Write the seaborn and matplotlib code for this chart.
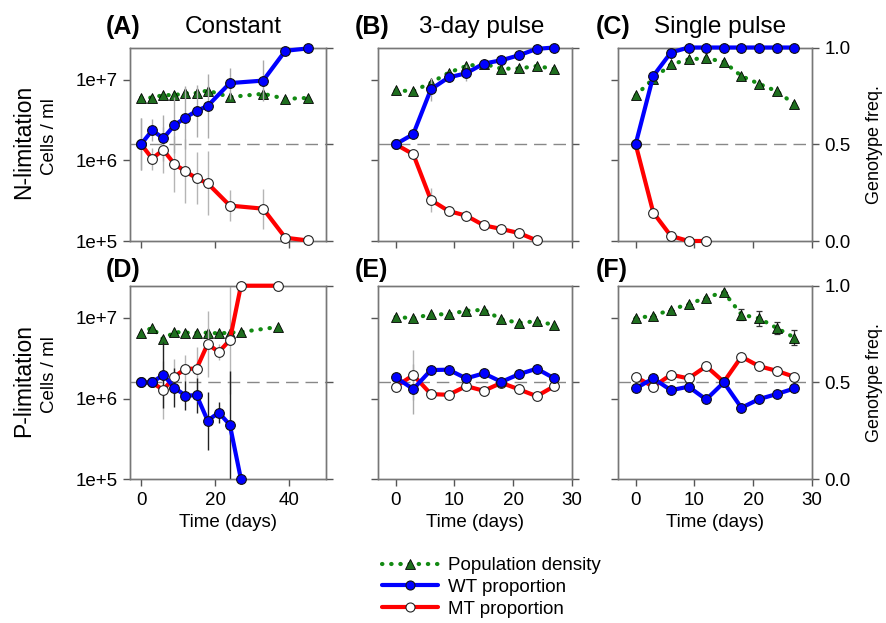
import numpy as np
import pandas as pd
import matplotlib
matplotlib.use("Agg")
import matplotlib.pyplot as plt
import seaborn as sns
from matplotlib.lines import Line2D

sns.set_theme(style="ticks")
plt.rcParams['font.family'] = ['Liberation Sans', 'DejaVu Sans']
for k in ["text.color", "axes.labelcolor", "xtick.color", "ytick.color"]:
    plt.rcParams[k] = "black"

# ---------------- data ----------------
# Panel A: N-limitation, constant
tA = [0, 3, 6, 9, 12, 15, 18, 24, 33, 39, 45]
densA = [5.97e6, 6.0e6, 6.45e6, 6.45e6, 6.8e6, 6.85e6, 7.35e6, 6.1e6, 6.7e6, 5.8e6, 5.95e6]
wtA = [0.5, 0.572, 0.531, 0.598, 0.638, 0.672, 0.698, 0.816, 0.829, 0.983, 0.995]
mtA = [0.5, 0.426, 0.471, 0.398, 0.36, 0.324, 0.298, 0.183, 0.167, 0.017, 0.003]
wtA_err = [0.134, 0.057, 0.12, 0.145, 0.165, 0.135, 0.165, 0.08, 0.104, 0.0, 0.0]
mtA_err = wtA_err

# Panel B: N-limitation, 3-day pulse
tB = [0, 3, 6, 9, 12, 15, 18, 21, 24, 27]
densB = [7.36e6, 7.23e6, 9.18e6, 1.22e7, 1.48e7, 1.58e7, 1.37e7, 1.38e7, 1.48e7, 1.36e7]
wtB = [0.5, 0.552, 0.784, 0.845, 0.867, 0.917, 0.934, 0.96, 0.993, 1.0]
mtB = [0.5, 0.448, 0.212, 0.155, 0.131, 0.081, 0.062, 0.041, 0.003]
wtB_err = [0.0, 0.02, 0.06, 0.02, 0.04, 0.01, 0.01, 0.01, 0.01, 0.0]
mtB_err = [0.0, 0.02, 0.06, 0.02, 0.03, 0.01, 0.01, 0.01, 0.0]

# Panel C: N-limitation, single pulse
tC = [0, 3, 6, 9, 12, 15, 18, 21, 24, 27]
densC = [6.38e6, 1.03e7, 1.55e7, 1.79e7, 1.85e7, 1.67e7, 1.11e7, 8.9e6, 7.2e6, 5.0e6]
wtC = [0.5, 0.853, 0.974, 1.0, 1.0, 1.0, 1.0, 1.0, 1.0, 1.0]
mtC = [0.5, 0.147, 0.026, 0.0, 0.0]
wtC_err = [0.0] * 10
mtC_err = [0.0] * 5

# Panel D: P-limitation, constant
tD = [0, 3, 6, 9, 12, 15, 18, 21, 24, 27, 37]
densD = [6.44e6, 7.59e6, 5.42e6, 6.7e6, 6.56e6, 6.56e6, 6.56e6, 6.44e6, 6.56e6, 6.7e6, 7.73e6]
wtD = [0.5, 0.5, 0.54, 0.473, 0.432, 0.434, 0.303, 0.344, 0.281, 0.0]
mtD = [0.5, 0.5, 0.461, 0.53, 0.571, 0.571, 0.699, 0.657, 0.719, 1.0, 1.0]
wtD_err = [0.0, 0.02, 0.17, 0.1, 0.075, 0.09, 0.15, 0.055, 0.28, 0.0]
mtD_err = [0.0, 0.02, 0.15, 0.09, 0.07, 0.11, 0.17, 0.04, 0.28, 0.0, 0.0]

# Panel E: P-limitation, 3-day pulse
tE = [0, 3, 6, 9, 12, 15, 18, 21, 24, 27]
densE = [1.03e7, 9.9e6, 1.11e7, 1.11e7, 1.23e7, 1.26e7, 9.6e6, 8.7e6, 9.1e6, 8.2e6]
wtE = [0.526, 0.466, 0.564, 0.566, 0.521, 0.547, 0.503, 0.543, 0.571, 0.521]
mtE = [0.478, 0.538, 0.44, 0.436, 0.481, 0.457, 0.498, 0.464, 0.429, 0.481]
wtE_err = [0.01, 0.13, 0.01, 0.01, 0.01, 0.01, 0.01, 0.01, 0.01, 0.01]
mtE_err = wtE_err

# Panel F: P-limitation, single pulse
tF = [0, 3, 6, 9, 12, 15, 18, 21, 24, 27]
densF = [1.0e7, 1.06e7, 1.27e7, 1.48e7, 1.79e7, 2.09e7, 1.1e7, 9.9e6, 7.5e6, 5.7e6]
densF_err = [0.0, 0.0, 0.0, 0.0, 0.0, 0.0, 0.07, 0.09, 0.08, 0.09]  # log10 units
wtF = [0.469, 0.521, 0.46, 0.478, 0.412, 0.5, 0.369, 0.414, 0.44, 0.469]
mtF = [0.529, 0.478, 0.54, 0.521, 0.584, 0.503, 0.633, 0.584, 0.56, 0.529]
wtF_err = [0.02, 0.01, 0.01, 0.01, 0.01, 0.01, 0.02, 0.01, 0.01, 0.01]
mtF_err = wtF_err

panel_letters = ["(A)", "(B)", "(C)", "(D)", "(E)", "(F)"]
col_titles = ["Constant", "3-day pulse", "Single pulse"]
row_labels = ["N-limitation", "P-limitation"]
density_ticks = [1e5, 1e6, 1e7]
density_ticklabels = ["1e+5", "1e+6", "1e+7"]
freq_ticks = [0.0, 0.5, 1.0]
freq_ticklabels = ["0.0", "0.5", "1.0"]

panels = [
    dict(t=tA, dens=densA, dens_err=None, wt=wtA, mt=mtA, wt_err=wtA_err, mt_err=mtA_err,
         xlim=(-3, 50), xticks=[0, 20, 40], wt_ecolor="#aaaaaa"),
    dict(t=tB, dens=densB, dens_err=None, wt=wtB, mt=mtB, wt_err=wtB_err, mt_err=mtB_err,
         xlim=(-3, 30), xticks=[0, 10, 20, 30], wt_ecolor="#aaaaaa"),
    dict(t=tC, dens=densC, dens_err=None, wt=wtC, mt=mtC, wt_err=wtC_err, mt_err=mtC_err,
         xlim=(-3, 30), xticks=[0, 10, 20, 30], wt_ecolor="#aaaaaa"),
    dict(t=tD, dens=densD, dens_err=None, wt=wtD, mt=mtD, wt_err=wtD_err, mt_err=mtD_err,
         xlim=(-3, 50), xticks=[0, 20, 40], wt_ecolor="#222222"),
    dict(t=tE, dens=densE, dens_err=None, wt=wtE, mt=mtE, wt_err=wtE_err, mt_err=mtE_err,
         xlim=(-3, 30), xticks=[0, 10, 20, 30], wt_ecolor="#aaaaaa"),
    dict(t=tF, dens=densF, dens_err=densF_err, wt=wtF, mt=mtF, wt_err=wtF_err, mt_err=mtF_err,
         xlim=(-3, 30), xticks=[0, 10, 20, 30], wt_ecolor="#aaaaaa"),
]

# ---------------- layout ----------------
W, H = 887, 623
fig = plt.figure(figsize=(W / 100, H / 100), dpi=100)
col_left = [130, 378, 618]
col_w = [196, 194, 194]
row_top = [47.5, 285.7]
row_h = 193.5

GREEN_LINE = "#138a13"
GREEN_MARK = "#1f6e1f"
BLUE = "#0000ff"
RED = "#ff0000"
SPINE = "#777777"
DOTS = (0, (0.1, 2.1))

fs_tick = 13.5
MS = 7.0
LW = 3.0

for i, p in enumerate(panels):
    r, c = divmod(i, 3)
    ax = fig.add_axes([col_left[c] / W, 1 - (row_top[r] + row_h) / H, col_w[c] / W, row_h / H])
    ax2 = ax.twinx()

    # density (log axis)
    ax.set_yscale("log")
    ax.set_ylim(1e5, 10 ** 7.4)
    if p["dens_err"] is not None:
        d = np.array(p["dens"])
        e = np.array(p["dens_err"])
        ax.errorbar(p["t"], d, yerr=[d - d / 10 ** e, d * 10 ** e - d], fmt="none",
                    ecolor="#333333", elinewidth=0.9, capsize=2.5, capthick=0.9, zorder=1)
    sns.lineplot(x=p["t"], y=p["dens"], ax=ax, color=GREEN_LINE, linestyle=DOTS,
                 linewidth=3.0, dash_capstyle="round", marker="^", markersize=7,
                 markerfacecolor=GREEN_MARK, markeredgecolor="black", markeredgewidth=0.6,
                 clip_on=False, zorder=2)

    # genotype frequencies (linear axis)
    ax2.set_ylim(0, 1)
    ax2.axhline(0.5, color="#888888", lw=1.0, dashes=(9, 5), zorder=1)
    tw = p["t"][:len(p["wt"])]
    tm = p["t"][:len(p["mt"])]
    ax2.errorbar(tm, p["mt"], yerr=p["mt_err"], fmt="none", ecolor="#b5b5b5", elinewidth=1.0, zorder=2)
    ax2.errorbar(tw, p["wt"], yerr=p["wt_err"], fmt="none", ecolor=p["wt_ecolor"], elinewidth=1.0, zorder=2)
    sns.lineplot(x=tm, y=p["mt"], ax=ax2, color=RED, linewidth=LW, marker="o", markersize=MS,
                 markerfacecolor="white", markeredgecolor="#222222", markeredgewidth=0.8,
                 clip_on=False, zorder=3)
    sns.lineplot(x=tw, y=p["wt"], ax=ax2, color=BLUE, linewidth=LW, marker="o", markersize=MS,
                 markerfacecolor=BLUE, markeredgecolor="#111111", markeredgewidth=0.8,
                 clip_on=False, zorder=4)

    ax.set_xlim(*p["xlim"])
    ax.set_xticks(p["xticks"])
    ax.set_yticks(density_ticks)
    ax.yaxis.set_minor_locator(matplotlib.ticker.NullLocator())
    ax2.set_yticks(freq_ticks)
    ax.set_ylabel("")
    ax2.set_ylabel("")

    if c == 0:
        ax.set_yticklabels(density_ticklabels)
    else:
        ax.set_yticklabels([])
    if c == 2:
        ax2.set_yticklabels(freq_ticklabels)
        ax2.set_ylabel("Genotype freq.", fontsize=13, labelpad=11)
    else:
        ax2.set_yticklabels([])
    if r == 1:
        ax.set_xticklabels([str(v) for v in p["xticks"]])
        ax.set_xlabel("Time (days)", fontsize=fs_tick, labelpad=4)
    else:
        ax.set_xticklabels([])
        ax.set_xlabel("")

    for a in (ax, ax2):
        a.tick_params(axis="both", which="major", direction="out", length=5, width=1,
                      color="#555555", labelsize=fs_tick, pad=4)
        for s in a.spines.values():
            s.set_color(SPINE)
            s.set_linewidth(1.0)
    ax.set_zorder(0)
    ax2.set_zorder(1)

# titles
title_y = [27, 270]
letter_x = [106, 355, 596]
title_cx = [233, 482, 720]
for i in range(6):
    r, c = divmod(i, 3)
    fig.text(letter_x[c] / W, 1 - title_y[r] / H, panel_letters[i], fontsize=18,
             fontweight="bold", ha="left", va="center")
for c in range(3):
    fig.text(title_cx[c] / W, 1 - title_y[0] / H, col_titles[c], fontsize=17.5,
             ha="center", va="center")

# row labels
for r in range(2):
    cy = row_top[r] + row_h / 2 - 2
    fig.text(24 / W, 1 - cy / H, row_labels[r], fontsize=16.5, rotation=90, ha="center", va="center")
    fig.text(50 / W, 1 - (cy - 6) / H, "Cells / ml", fontsize=13.5, rotation=90, ha="center", va="center")

# legend
handles = [
    Line2D([], [], color=GREEN_LINE, linestyle=DOTS, linewidth=3.0, dash_capstyle="round",
           marker="^", markersize=7, markerfacecolor=GREEN_MARK, markeredgecolor="black", markeredgewidth=0.6),
    Line2D([], [], color=BLUE, linewidth=LW, marker="o", markersize=6.5, markerfacecolor=BLUE,
           markeredgecolor="#111111", markeredgewidth=0.8),
    Line2D([], [], color=RED, linewidth=LW, marker="o", markersize=6.5, markerfacecolor="white",
           markeredgecolor="#222222", markeredgewidth=0.8),
]
fig.legend(handles, ["Population density", "WT proportion", "MT proportion"],
           loc="upper left", bbox_to_anchor=(382 / W, 1 - 557 / H), frameon=False,
           fontsize=13.5, handlelength=3.0, handletextpad=0.5, labelspacing=0.25,
           borderaxespad=0, borderpad=0)

fig.savefig("out.png", dpi=100)
